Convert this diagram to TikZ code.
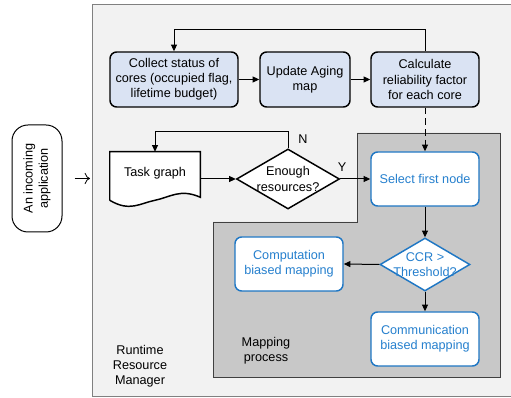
\documentclass[tikz,border=0pt]{standalone}
\usepackage{fontspec}
\setmainfont{Liberation Sans}
\usetikzlibrary{arrows.meta,shapes.geometric,calc}
\definecolor{coreblue}{RGB}{218,227,243}
\definecolor{mapline}{RGB}{31,119,196}
\definecolor{maptext}{RGB}{38,128,206}
\definecolor{rrmgray}{RGB}{242,242,242}
\definecolor{mapgray}{RGB}{200,200,200}
\begin{document}
\begin{tikzpicture}[x=0.75pt,y=-0.75pt,
		every node/.style={font=\fontsize{9.5}{11.4}\selectfont,align=center},
		>={Triangle[length=5pt,width=4.5pt]},
		flow/.style={->,line width=0.75pt},
		corebox/.style={draw,line width=1.1pt,rounded corners=5pt,fill=coreblue,minimum height=55*0.75pt,inner sep=1pt},
		mapbox/.style={draw=mapline,line width=1.1pt,rounded corners=5pt,fill=white,text=maptext,minimum width=108*0.75pt,minimum height=54*0.75pt,inner sep=1pt},
		choice/.style={diamond,draw,line width=1.1pt,fill=white,inner sep=-4pt,aspect=1.7}]
		\useasboundingbox (0,0) rectangle (511,398);
		% Zones
		\fill [rrmgray] (92,4) rectangle (511,396);
		\draw [line width=0.6pt,gray] (511,4) -- (92,4) -- (92,396) -- (511,396);
		\draw [line width=0.6pt,fill=mapgray,draw=black!75] (357,133) -- (500,133) -- (500,377) -- (213,377) -- (213,222) -- (357,222) -- cycle;
		% Noeuds
		\node [draw,line width=0.75pt,rounded corners=12pt,minimum width=50*0.75pt,minimum height=107*0.75pt] (app) at (37,178.5) {};
		\node [rotate=90] (apptext) at (app.center) {An incoming\\application};
		\coordinate (rrmin) at (90,178.5);
		\node [corebox,minimum width=128*0.75pt] (collect) at (174,79.5) {Collect status of\\cores (occupied flag,\\lifetime budget)};
		\node [corebox,minimum width=90*0.75pt] (aging) at (305,79.5) {Update Aging\\map};
		\node [corebox,minimum width=108*0.75pt] (calc) at (425,79.5) {Calculate\\reliability factor\\for each core};
		\node [minimum width=90*0.75pt,minimum height=48*0.75pt,inner sep=0pt] (taskg) at (155,176) {};
		\node [choice,minimum width=103*0.75pt,minimum height=60*0.75pt] (enough) at (288,179) {Enough\\resources?};
		\node [mapbox] (select) at (425,179) {Select first node};
		\node [choice,draw=mapline,text=maptext,minimum width=90*0.75pt,minimum height=53*0.75pt] (ccr) at (425,264.5) {CCR >\\Threshold?};
		\node [mapbox] (comp) at (289,264) {Computation\\biased mapping};
		\node [mapbox] (comm) at (425,339) {Communication\\biased mapping};
		\node (rrm) at (140,366) {Runtime\\Resource\\Manager};
		\node (mapproc) at (266,351) {Mapping\\process};
		% Document
		\draw [line width=1.1pt,fill=white] (taskg.south west) -- (taskg.north west) -- (taskg.north east) -- ($(taskg.south east)+(0,-3)$)
			.. controls ($(taskg.south east)+(-20,-12)$) and ($(taskg.south)+(15,-3)$) .. (taskg.south)
			.. controls ($(taskg.south)+(-15,3)$) and ($(taskg.south west)+(20,12)$) .. (taskg.south west);
		\node (tasktext) at (155,173) {Task graph};
		% Flèches
		\draw [-{To[length=4pt]},line width=0.6pt,shorten <=9pt] (app.east) -- (rrmin);
		\draw [flow] (collect) -- (aging);
		\draw [flow] (aging) -- (calc);
		\draw [flow] (calc.north) -- ++(0,-22) -| (collect.north);
		\draw [flow,dashed,dash pattern=on 5pt off 3pt] (calc.south) -- (select.north);
		\draw [flow] (taskg.east |- enough) -- (enough.west);
		\draw [flow] (enough.north) -- ++(0,-17) -| (taskg.north);
		\draw [flow] (enough.east) -- (select.west);
		\draw [flow] (select.south) -- (ccr.north);
		\draw [flow] (ccr.west) -- (comp.east);
		\draw [flow] (ccr.south) -- (comm.north);
		\node (nolabel) at (303,139) {N};
		\node (yeslabel) at (342,167) {Y};
\end{tikzpicture}
\end{document}
